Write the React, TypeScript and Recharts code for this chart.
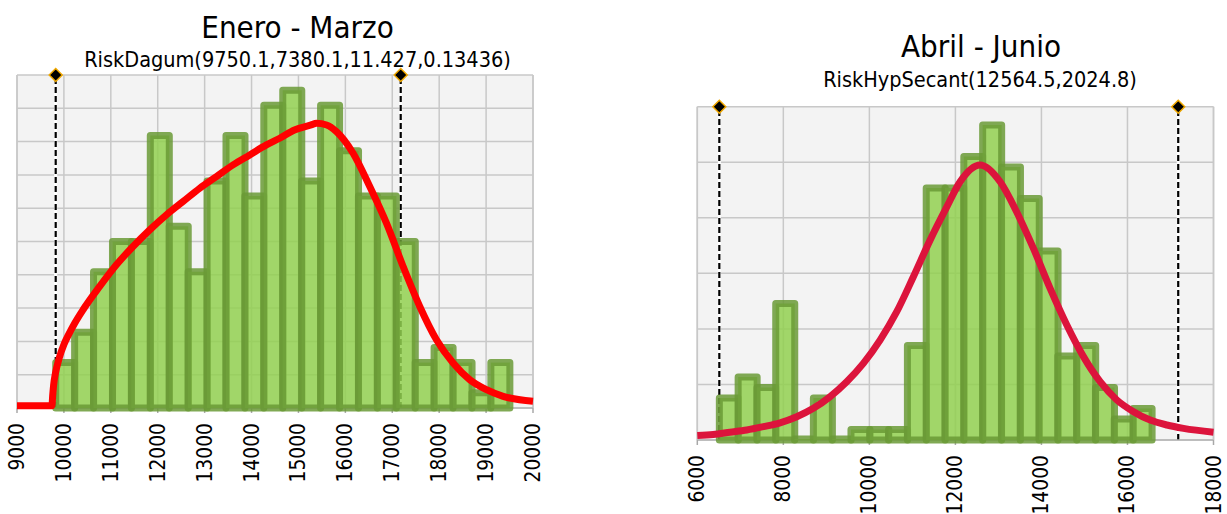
import React from 'react';
import {
  ComposedChart,
  Bar,
  Line,
  XAxis,
  YAxis,
  CartesianGrid,
  ReferenceLine,
  ReferenceDot,
} from 'recharts';

const FONT = "'DejaVu Sans Condensed', 'Liberation Sans', Arial, sans-serif";

// Enero - Marzo
const q1BinCenters = [
  10027, 10430, 10833, 11237, 11640, 12043, 12447, 12850, 13253, 13657, 14060, 14463,
  14867, 15270, 15673, 16077, 16480, 16883, 17287, 17690, 18093, 18497, 18900, 19303,
];
const q1Counts = [3, 5, 9, 11, 11, 18, 12, 9, 15, 18, 14, 20, 21, 15, 20, 17, 14, 14, 11, 3, 4, 3, 1, 3];
const q1CurveX = [
  9000, 9400, 9745, 9760, 9780, 9820, 9900, 10000, 10100, 10230, 10408, 10763, 11119, 11474,
  11830, 12185, 12540, 12896, 13251, 13606, 13962, 14317, 14601, 14915, 15270, 15384, 15600,
  15810, 16165, 16520, 16876, 17231, 17586, 17942, 18297, 18652, 19008, 19363, 20000,
];
const q1CurveY = [
  0.15, 0.15, 0.15, 0.8, 1.5, 2.3, 3.3, 4.2, 4.85, 5.6, 6.49, 8.03, 9.46, 10.67,
  11.77, 12.76, 13.64, 14.52, 15.29, 16.06, 16.72, 17.38, 17.82, 18.37, 18.7, 18.81, 18.7,
  18.26, 16.83, 14.63, 12.21, 9.35, 6.71, 4.51, 2.97, 1.87, 1.21, 0.77, 0.44,
];
const q1Ticks = [9000, 10000, 11000, 12000, 13000, 14000, 15000, 16000, 17000, 18000, 19000, 20000];
const q1GridY = [0, 2.2, 4.4, 6.6, 8.8, 11, 13.2, 15.4, 17.6, 19.8, 22];
const q1Markers = [9825, 17180];

// Abril - Junio
const q2BinCenters = [
  6731, 7168, 7605, 8042, 8479, 8917, 9354, 9791, 10228, 10665, 11103, 11540,
  11977, 12414, 12852, 13289, 13726, 14163, 14600, 15038, 15475, 15912, 16349,
];
const q2Counts = [4, 6, 5, 13, 0, 4, 0, 1, 1, 1, 9, 24, 24, 27, 30, 26, 23, 18, 8, 9, 5, 2, 3];
const q2CurveX = [
  6000, 6372, 6760, 7149, 7535, 7923, 8312, 8698, 9086, 9474, 9860, 10249, 10637,
  11023, 11412, 11800, 12109, 12574, 13040, 13428, 13814, 14202, 14590, 14977,
  15365, 15753, 16140, 16528, 16916, 17302, 18000,
];
const q2CurveY = [
  0.42, 0.53, 0.74, 0.95, 1.27, 1.64, 2.22, 3.02, 4.13, 5.55, 7.3, 9.52, 12.22,
  15.55, 19.04, 22.2, 24.6, 26.2, 24.6, 21.7, 18.25, 14.44, 10.95, 7.94,
  5.55, 3.81, 2.7, 1.9, 1.43, 1.11, 0.74,
];
const q2Ticks = [6000, 8000, 10000, 12000, 14000, 16000, 18000];
const q2GridY = [0, 5.29, 10.58, 15.88, 21.17, 26.46, 31.75];
const q2Markers = [6512, 17180];

const GRID = '#c8c8c8';

const RotatedTick = (props: any) => {
  const { x, y, payload } = props;
  const ty = y + 8;
  return (
    <text
      x={x}
      y={ty}
      transform={`rotate(-90 ${x} ${ty})`}
      textAnchor="end"
      dominantBaseline="central"
      fontSize={20.8}
      fontFamily={FONT}
      fill="#000"
    >
      {payload.value}
    </text>
  );
};

const Diamond = (props: any) => {
  const { cx, cy } = props;
  const r = 6.5;
  return (
    <polygon
      points={`${cx},${cy - r} ${cx + r},${cy} ${cx},${cy + r} ${cx - r},${cy}`}
      fill="#000"
      stroke="#f0a800"
      strokeWidth={1.5}
    />
  );
};

interface PanelProps {
  left: number;
  width: number;
  top: number;
  right: number;
  plotLeft: number;
  axisHeight: number;
  ticks: number[];
  gridY: number[];
  bins: { x: number; count: number }[];
  curve: { x: number; y: number }[];
  markers: number[];
  curveColor: string;
}

function Panel(p: PanelProps) {
  const H = 514;
  const margin = { top: p.top, right: p.right, bottom: 0, left: p.plotLeft };
  const domain: [number, number] = [p.ticks[0], p.ticks[p.ticks.length - 1]];
  const yMax = p.gridY[p.gridY.length - 1];
  const layer: React.CSSProperties = { position: 'absolute', left: 0, top: 0 };
  const hiddenX = (
    <XAxis
      type="number"
      dataKey="x"
      domain={domain}
      ticks={p.ticks}
      height={p.axisHeight}
      tick={false}
      tickLine={false}
      axisLine={false}
    />
  );
  const yAxis = (
    <YAxis
      type="number"
      domain={[0, yMax]}
      ticks={p.gridY}
      width={0}
      tick={false}
      tickLine={false}
      axisLine={false}
    />
  );

  return (
    <div style={{ position: 'absolute', left: p.left, top: 0, width: p.width, height: H }}>
      {/* background, grid, axis and the delimiter lines */}
      <div style={layer}>
        <ComposedChart width={p.width} height={H} data={p.bins} margin={margin} barCategoryGap={0}>
          <CartesianGrid fill="#f3f3f3" stroke={GRID} strokeWidth={1.5} horizontal={false} />
          <XAxis
            type="number"
            dataKey="x"
            domain={domain}
            ticks={p.ticks}
            height={p.axisHeight}
            interval={0}
            tick={<RotatedTick />}
            tickSize={5}
            tickMargin={2}
            tickLine={{ stroke: '#a8a8a8', strokeWidth: 1.5 }}
            axisLine={{ stroke: '#b4b4b4', strokeWidth: 1.5 }}
          />
          {yAxis}
          <Bar dataKey="count" fill="none" stroke="none" isAnimationActive={false} />
          {p.gridY.map((v) => (
            <ReferenceLine key={`h${v}`} y={v} stroke={GRID} strokeWidth={1.5} ifOverflow="visible" />
          ))}
          {[domain[0], domain[1]].map((v) => (
            <ReferenceLine key={`v${v}`} x={v} stroke={GRID} strokeWidth={1.5} ifOverflow="visible" />
          ))}
          {p.markers.map((m) => (
            <ReferenceLine key={`w${m}`} x={m} stroke="#ffffff" strokeWidth={3} />
          ))}
          {p.markers.map((m) => (
            <ReferenceLine key={`d${m}`} x={m} stroke="#000" strokeWidth={2.2} strokeDasharray="6 3" />
          ))}
        </ComposedChart>
      </div>
      {/* histogram */}
      <div style={layer}>
        <ComposedChart width={p.width} height={H} data={p.bins} margin={margin} barCategoryGap={0} barGap={0}>
          {hiddenX}
          {yAxis}
          <Bar
            dataKey="count"
            fill="#92d050"
            fillOpacity={0.85}
            stroke="#6a9a36"
            strokeOpacity={0.85}
            strokeWidth={7}
            strokeLinejoin="round"
            minPointSize={1}
            isAnimationActive={false}
          />
        </ComposedChart>
      </div>
      {/* fitted curve and delimiter handles */}
      <div style={layer}>
        <ComposedChart width={p.width} height={H} data={p.curve} margin={margin}>
          {hiddenX}
          {yAxis}
          <Line
            type="monotone"
            dataKey="y"
            stroke={p.curveColor}
            strokeWidth={7}
            dot={false}
            activeDot={false}
            isAnimationActive={false}
          />
          {p.markers.map((m) => (
            <ReferenceDot key={`m${m}`} x={m} y={yMax} ifOverflow="visible" shape={<Diamond />} />
          ))}
        </ComposedChart>
      </div>
    </div>
  );
}

export default function App() {
  const q1Bins = q1BinCenters.map((x, i) => ({ x, count: q1Counts[i] }));
  const q1Curve = q1CurveX.map((x, i) => ({ x, y: q1CurveY[i] }));
  const q2Bins = q2BinCenters.map((x, i) => ({ x, count: q2Counts[i] }));
  const q2Curve = q2CurveX.map((x, i) => ({ x, y: q2CurveY[i] }));

  return (
    <div
      style={{
        position: 'absolute',
        left: 0,
        top: 0,
        width: 1227,
        height: 514,
        background: '#fff',
        overflow: 'hidden',
        fontFamily: FONT,
      }}
    >
      <Panel
        left={0}
        width={560}
        top={75}
        right={27}
        plotLeft={17}
        axisHeight={106}
        ticks={q1Ticks}
        gridY={q1GridY}
        bins={q1Bins}
        curve={q1Curve}
        markers={q1Markers}
        curveColor="#ff0000"
      />
      <Panel
        left={680}
        width={547}
        top={106.7}
        right={13.5}
        plotLeft={17.3}
        axisHeight={74}
        ticks={q2Ticks}
        gridY={q2GridY}
        bins={q2Bins}
        curve={q2Curve}
        markers={q2Markers}
        curveColor="#dc143c"
      />
      <svg
        width={1227}
        height={514}
        style={{ position: 'absolute', left: 0, top: 0, pointerEvents: 'none' }}
      >
        <text x={297.5} y={38.3} textAnchor="middle" fontSize={31} fontFamily={FONT} fill="#000">
          Enero - Marzo
        </text>
        <text x={297.5} y={66.7} textAnchor="middle" fontSize={21.5} fontFamily={FONT} fill="#000">
          RiskDagum(9750.1,7380.1,11.427,0.13436)
        </text>
        <text x={981} y={56.7} textAnchor="middle" fontSize={31} fontFamily={FONT} fill="#000">
          Abril - Junio
        </text>
        <text x={980} y={86.7} textAnchor="middle" fontSize={21.5} fontFamily={FONT} fill="#000">
          RiskHypSecant(12564.5,2024.8)
        </text>
      </svg>
    </div>
  );
}
